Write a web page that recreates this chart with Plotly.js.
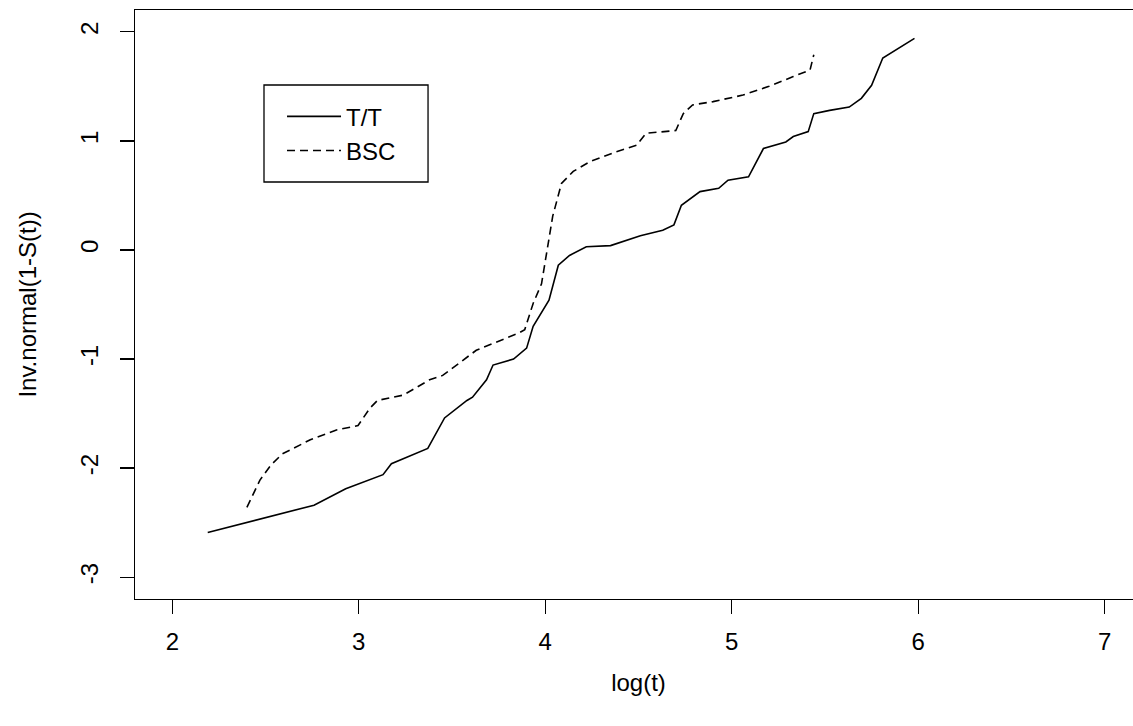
<!DOCTYPE html>
<html>
<head>
<meta charset="utf-8">
<script src="https://cdn.plot.ly/plotly-3.0.1.min.js"></script>
<style>
html,body{margin:0;padding:0;overflow:hidden;background:#fff;}
#chart{width:1147px;height:726px;}
</style>
</head>
<body>
<div id="chart"></div>
<script>
// T/T series (log(t), inverse normal of 1-S(t))
var ttX = [2.19, 2.76, 2.93, 3.13, 3.175, 3.37, 3.46, 3.58, 3.61, 3.685, 3.72, 3.83, 3.90, 3.935, 4.02, 4.07, 4.13, 4.22, 4.35, 4.51, 4.63, 4.69, 4.73, 4.83, 4.93, 4.98, 5.09, 5.17, 5.29, 5.33, 5.41, 5.44, 5.525, 5.63, 5.695, 5.75, 5.81, 5.98];
var ttY = [-2.59, -2.34, -2.19, -2.06, -1.96, -1.82, -1.54, -1.38, -1.35, -1.19, -1.055, -1.00, -0.90, -0.70, -0.46, -0.14, -0.05, 0.03, 0.04, 0.13, 0.18, 0.23, 0.41, 0.535, 0.566, 0.64, 0.67, 0.93, 0.99, 1.04, 1.085, 1.25, 1.28, 1.31, 1.39, 1.51, 1.76, 1.94];
// BSC series
var bscX = [2.40, 2.47, 2.53, 2.59, 2.74, 2.88, 2.996, 3.06, 3.10, 3.24, 3.38, 3.45, 3.63, 3.76, 3.86, 3.89, 3.935, 3.98, 4.006, 4.04, 4.087, 4.15, 4.24, 4.38, 4.49, 4.54, 4.70, 4.74, 4.79, 4.90, 5.06, 5.20, 5.33, 5.42, 5.44];
var bscY = [-2.36, -2.11, -1.97, -1.87, -1.74, -1.65, -1.61, -1.45, -1.38, -1.33, -1.19, -1.15, -0.92, -0.83, -0.76, -0.73, -0.49, -0.31, -0.03, 0.31, 0.61, 0.72, 0.81, 0.90, 0.96, 1.07, 1.095, 1.25, 1.33, 1.36, 1.42, 1.50, 1.59, 1.65, 1.79];
var seriesNames = ["T/T", "BSC"];
var xTicks = [2, 3, 4, 5, 6, 7];
var yTicks = [-3, -2, -1, 0, 1, 2];

var FONT = "Liberation Sans, Arial, sans-serif";
var traces = [
  {x: ttX, y: ttY, name: seriesNames[0], type: "scatter", mode: "lines",
   line: {color: "#000", width: 1.6, dash: "solid"}},
  {x: bscX, y: bscY, name: seriesNames[1], type: "scatter", mode: "lines",
   line: {color: "#000", width: 1.6, dash: "8px,5px"}}
];

var layout = {
  width: 1147, height: 726,
  margin: {l: 135, r: 5, t: 10, b: 127, pad: 0},
  paper_bgcolor: "#fff", plot_bgcolor: "#fff",
  font: {family: FONT, size: 24, color: "#000"},
  showlegend: true,
  legend: {x: 0.146, y: 0.857, xanchor: "left", yanchor: "top",
           bgcolor: "rgba(0,0,0,0)", borderwidth: 0, itemwidth: 54,
           tracegroupgap: 0,
           font: {family: FONT, size: 24, color: "#000"}},
  shapes: [{type: "rect", xref: "paper", yref: "paper",
            x0: 0.1281, x1: 0.291, y0: 0.708, y1: 0.8727,
            line: {color: "#000", width: 1.3}, fillcolor: "rgba(0,0,0,0)"}],
  xaxis: {range: [1.8, 7.2], tickvals: xTicks, ticktext: xTicks.map(String),
          showgrid: false, zeroline: false, showline: true, mirror: true,
          linecolor: "#000", linewidth: 1.3, ticks: "outside", ticklen: 14,
          tickwidth: 1.3, tickcolor: "#000", ticklabelstandoff: 7,
          tickfont: {family: FONT, size: 24, color: "#000"},
          title: {text: "log(t)", font: {family: FONT, size: 24, color: "#000"}, standoff: 20}},
  yaxis: {range: [-3.2, 2.2], tickvals: yTicks, ticktext: yTicks.map(String),
          showgrid: false, zeroline: false, showline: true, mirror: true,
          linecolor: "#000", linewidth: 1.3, ticks: "outside", ticklen: 14,
          tickwidth: 1.3, tickcolor: "#000", tickangle: -90, ticklabelstandoff: 12,
          tickfont: {family: FONT, size: 24, color: "#000"},
          title: {text: "Inv.normal(1-S(t))", font: {family: FONT, size: 24, color: "#000"}, standoff: 32}}
};

Plotly.newPlot("chart", traces, layout, {staticPlot: true, displayModeBar: false});
</script>
</body>
</html>
